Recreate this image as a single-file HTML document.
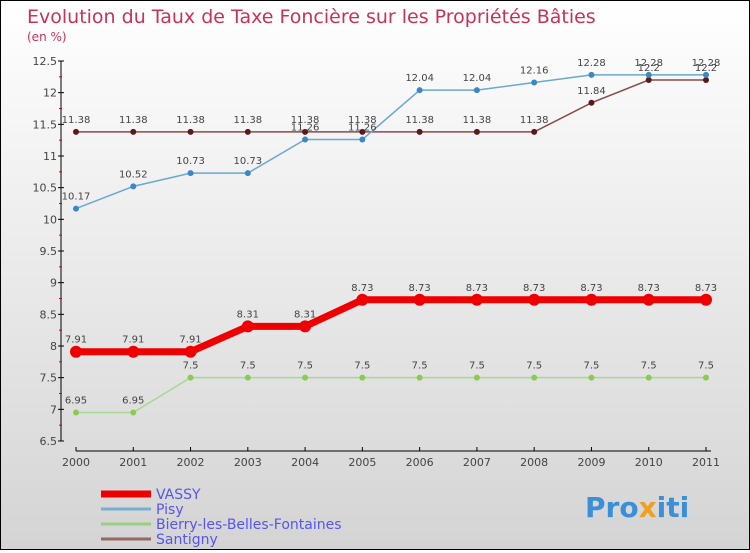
<!DOCTYPE html>
<html><head><meta charset="utf-8"><style>
body{margin:0}
#c{width:748px;height:548px;border:1px solid #000;background:linear-gradient(#fff,#d4d4d4);position:relative;font-family:"DejaVu Sans","Liberation Sans",sans-serif}
text{font-family:"DejaVu Sans","Liberation Sans",sans-serif}
</style></head><body>
<div id="c">
<svg id="s" width="748" height="548">
<text x="26" y="22" font-size="19" fill="#c8325a">Evolution du Taux de Taxe Foncière sur les Propriétés Bâties</text>
<text x="26" y="40" font-size="12" fill="#c8325a">(en %)</text>
<text x="584" y="516" font-size="28" font-weight="bold" fill="#3a8fd8">Pro<tspan fill="#f0a020">x</tspan>iti</text>
</svg></div>
<script>
const years=[2000,2001,2002,2003,2004,2005,2006,2007,2008,2009,2010,2011];
const yTicks=[6.5,7,7.5,8,8.5,9,9.5,10,10.5,11,11.5,12,12.5];
const vassy=[7.91,7.91,7.91,8.31,8.31,8.73,8.73,8.73,8.73,8.73,8.73,8.73];
const pisy=[10.17,10.52,10.73,10.73,11.26,11.26,12.04,12.04,12.16,12.28,12.28,12.28];
const bierry=[6.95,6.95,7.5,7.5,7.5,7.5,7.5,7.5,7.5,7.5,7.5,7.5];
const santigny=[11.38,11.38,11.38,11.38,11.38,11.38,11.38,11.38,11.38,11.84,12.2,12.2];
const names=["VASSY","Pisy","Bierry-les-Belles-Fontaines","Santigny"];
const ns="http://www.w3.org/2000/svg",s=document.getElementById('s');
const X=i=>75+i*(630/11), Y=v=>440-(v-6.5)*(380/6);
function el(t,a,p){const e=document.createElementNS(ns,t);for(const k in a)e.setAttribute(k,a[k]);(p||s).appendChild(e);return e;}
// axes
let a=el('line',{x1:60,y1:60,x2:60,y2:440,stroke:'#000'});

a=el('line',{x1:75,y1:450,x2:710,y2:450,stroke:'#000'});

yTicks.forEach((v,i)=>{el('line',{x1:57,x2:63,y1:Y(v),y2:Y(v),stroke:'#000'});
 if(i<yTicks.length-1)el('line',{x1:58,x2:61,y1:Y(v+0.25),y2:Y(v+0.25),stroke:'#d00'});
 const t=el('text',{x:56,y:Y(v)+4,'font-size':11,'text-anchor':'end',fill:'#444'});t.textContent=v;
 });
years.forEach((y,i)=>{el('line',{x1:X(i),x2:X(i),y1:446,y2:450,stroke:'#000'});
 const t=el('text',{x:X(i),y:465,'font-size':11,'text-anchor':'middle',fill:'#444'});t.textContent=y;
 });
function series(d,col,w,r,dot,nm){
 const g=el('g',{});
 el('polyline',{points:d.map((v,i)=>X(i)+','+Y(v)).join(' '),fill:'none',stroke:col,'stroke-width':w},g);
 d.forEach((v,i)=>{const c=el('circle',{cx:X(i),cy:Y(v),r:r,fill:dot},g);
  
  const t=el('text',{x:X(i),y:Y(v)-9,'font-size':10,'text-anchor':'middle',fill:'#444'},g);t.textContent=v;});
}
series(santigny,'#8a4a4a',1.5,3,'#5a1a1a','santigny');
series(pisy,'#6aa8d0',1.5,3,'#3a88c8','pisy');
series(bierry,'#a8d890',1.5,3,'#88cc50','bierry');
series(vassy,'#ee0000',7,6,'#ee0000','vassy');
const lc=['#ee0000','#7aaed0','#99d080','#996666'],lw=[7,3,3,3];
names.forEach((n,i)=>{const y=493+i*15;
 const g=el('g',{});
 el('line',{x1:100,x2:150,y1:y,y2:y,stroke:lc[i],'stroke-width':lw[i]},g);
 const t=el('text',{x:155,y:y+5,'font-size':14,fill:'#5555ee'},g);t.textContent=n;});
</script></body></html>
